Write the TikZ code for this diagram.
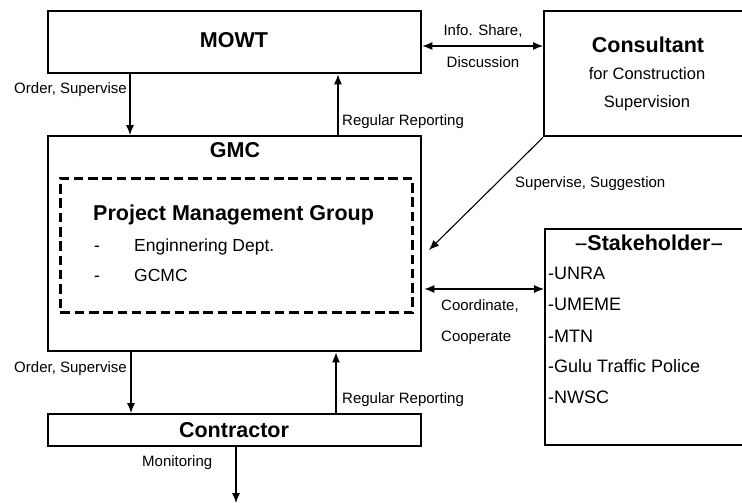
\documentclass[tikz,border=0pt]{standalone}
\usepackage{fontspec}
\setmainfont{Liberation Sans}
\usetikzlibrary{arrows.meta}
\begin{document}
\begin{tikzpicture}[x=1pt,y=-1pt,
  box/.style={draw, line width=2.4pt, inner sep=0pt, anchor=north west},
  dashbox/.style={draw, line width=2.8pt, dash pattern=on 9.5pt off 4.8pt, inner sep=0pt, anchor=north west},
  arr/.style={line width=1.1pt, -{Latex[length=10pt,width=8pt]}},
  dbl/.style={line width=1.1pt, {Latex[length=10pt,width=8pt]}-{Latex[length=10pt,width=8pt]}},
  lbl/.style={inner sep=0pt, font=\fontsize{15}{18}\selectfont},
  ttl/.style={inner sep=0pt, font=\fontsize{21.5}{26}\selectfont\bfseries},
  sub/.style={inner sep=0pt, font=\fontsize{16.5}{20}\selectfont},
  item/.style={inner sep=0pt, font=\fontsize{17.5}{21}\selectfont},
  sitem/.style={inner sep=0pt, font=\fontsize{18}{22}\selectfont}
]
\useasboundingbox (0,0) rectangle (742,503);

% boxes
\node[box, minimum width=373pt, minimum height=62pt] (mowt) at (47,10) {};
\node[box, minimum width=373pt, minimum height=215pt] (gmc) at (47,135) {};
\node[dashbox, minimum width=352pt, minimum height=134pt] (pmg) at (59,177) {};
\node[box, minimum width=209pt, minimum height=125pt] (cons) at (543,10) {};
\node[box, minimum width=208pt, minimum height=216pt] (stake) at (544,228) {};
\node[box, minimum width=373pt, minimum height=32pt] (contr) at (47,413) {};

% titles
\node[ttl, anchor=base] (tmowt) at (234,48) {MOWT};
\node[ttl, anchor=base] (tgmc) at (235,157) {GMC};
\node[ttl, anchor=base west] (tpmg) at (93,220) {Project Management Group};
\node[item, anchor=base west] (d1) at (94,251) {-};
\node[item, anchor=base west] (i1) at (134,251) {Enginnering Dept.};
\node[item, anchor=base west] (d2) at (94,281) {-};
\node[item, anchor=base west] (i2) at (134,281) {GCMC};
\node[ttl, anchor=base] (tcons) at (648,53) {Consultant};
\node[sub, anchor=base] (tcons2) at (647,80) {for Construction};
\node[sub, anchor=base] (tcons3) at (647,107) {Supervision};
\node[ttl, anchor=base] (tstake) at (649,250) {{\mdseries-\kern-1.8pt-}Stakeholder{\mdseries-\kern-1.8pt-}};
\node[sitem, anchor=base west] (s1) at (548,279) {-UNRA};
\node[sitem, anchor=base west] (s2) at (548,310) {-UMEME};
\node[sitem, anchor=base west] (s3) at (548,342) {-MTN};
\node[sitem, anchor=base west] (s4) at (548,372) {-Gulu Traffic Police};
\node[sitem, anchor=base west] (s5) at (548,403) {-NWSC};
\node[ttl, anchor=base] (tcontr) at (234,437) {Contractor};

% coordinates for connectors
\coordinate (c1) at (130,0);
\coordinate (c2) at (338,0);
\coordinate (c3) at (0,46);
\coordinate (supEnd) at (429,250);
\coordinate (c5) at (0,289);
\coordinate (c6) at (131,0);
\coordinate (c7) at (336,0);
\coordinate (monEnd) at (236,503);

% connectors
\draw[arr] (mowt.south -| c1) -- (gmc.north -| c1);
\draw[arr] (gmc.north -| c2) -- (mowt.south -| c2);
\draw[dbl] (mowt.east |- c3) -- (cons.west |- c3);
\draw[arr] (cons.south west) -- (supEnd);
\draw[dbl, shorten <=2pt] (gmc.east |- c5) -- (stake.west |- c5);
\draw[arr] (gmc.south -| c6) -- (contr.north -| c6);
\draw[arr] (contr.north -| c7) -- (gmc.south -| c7);
\draw[arr] (contr.south -| monEnd) -- (monEnd);

% connector labels
\node[lbl, anchor=base east] (l1) at (127,94) {Order, Supervise};
\node[lbl, anchor=base west] (l2) at (342,125) {Regular Reporting};
\node[lbl, anchor=base] (l3) at (483,36) {Info. Share,};
\node[lbl, anchor=base] (l4) at (483,67) {Discussion};
\node[lbl, anchor=base west] (l5) at (515,187) {Supervise, Suggestion};
\node[lbl, anchor=base west] (l6) at (441,310) {Coordinate,};
\node[lbl, anchor=base west] (l7) at (441,341) {Cooperate};
\node[lbl, anchor=base east] (l8) at (127,372) {Order, Supervise};
\node[lbl, anchor=base west] (l9) at (342,403) {Regular Reporting};
\node[lbl, anchor=base west] (l10) at (142,466) {Monitoring};
\end{tikzpicture}
\end{document}
